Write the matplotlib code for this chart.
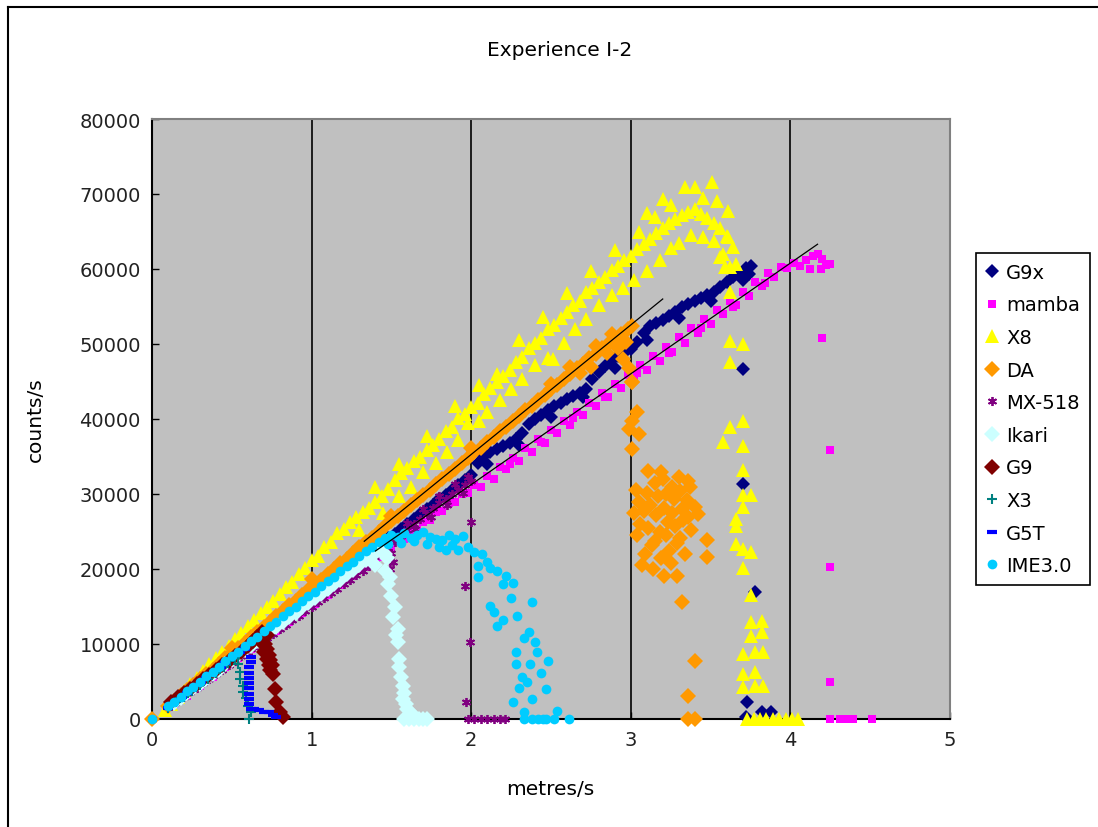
import matplotlib
matplotlib.use("Agg")
import matplotlib.pyplot as plt
from matplotlib.lines import Line2D

plt.rcParams["font.family"] = ["DejaVu Sans"]

# speed (metres/s) vs counts/s, one list of (x, y) per mouse
g9x = [(0, 0), (0.12, 2000), (0.16, 2600), (0.20, 3300), (0.24, 3900), (0.28, 4600), (0.32, 5200),
       (0.36, 5900), (0.40, 6500), (0.44, 7200), (0.48, 7800), (0.52, 8500), (0.56, 9100), (0.60, 9800),
       (0.64, 10400), (0.68, 11100), (0.72, 11700), (0.76, 12400), (0.80, 13000), (0.84, 13700),
       (0.88, 14300), (0.92, 15000), (0.96, 15600), (1.00, 16300), (1.04, 16900), (1.08, 17600),
       (1.12, 18200), (1.16, 18900), (1.20, 19500), (1.24, 20200), (1.28, 20800), (1.32, 21500),
       (1.36, 22100), (1.40, 22800), (1.44, 23400), (1.48, 24100), (1.52, 24700), (1.56, 25400),
       (1.60, 26000), (1.64, 26700), (1.68, 27300), (1.72, 28000), (1.76, 28600), (1.80, 29300),
       (1.84, 29900), (1.88, 30600), (1.92, 31200), (1.96, 31900), (2.00, 32600), (2.04, 34200),
       (2.08, 35100), (2.12, 35600), (2.16, 36000), (2.20, 36400), (2.24, 36800), (2.28, 37300),
       (2.32, 38200), (2.36, 39300), (2.40, 40000), (2.44, 40600), (2.48, 41200), (2.52, 41700),
       (2.56, 42200), (2.60, 42700), (2.64, 43100), (2.68, 43500), (2.72, 44000), (2.76, 45300),
       (2.80, 46300), (2.84, 47100), (2.88, 47900), (2.92, 48400), (2.96, 48800), (3.00, 49300),
       (3.04, 50300), (3.08, 51500), (3.12, 52400), (3.16, 52800), (3.20, 53200), (3.24, 53700),
       (3.28, 54300), (3.32, 54900), (3.36, 55300), (3.40, 55700), (3.44, 56100), (3.48, 56500),
       (3.52, 56900), (3.56, 57600), (3.60, 58300), (3.64, 59000), (3.68, 59600), (3.72, 60100),
       (3.75, 60400), (3.70, 58500), (3.74, 59300), (2.10, 34000), (2.30, 36500), (2.50, 40300),
       (2.70, 43000), (2.90, 46800), (3.10, 50500), (3.30, 53500), (3.50, 55800),
       (3.70, 46700), (3.70, 31300), (3.78, 16900), (3.73, 2300), (3.82, 900), (3.88, 900), (3.72, 300)]

mamba = [(0, 0), (0.10, 1900), (0.14, 2000), (0.18, 2900), (0.22, 3100), (0.26, 4300), (0.30, 4400),
         (0.34, 5300), (0.38, 5600), (0.42, 6700), (0.46, 6900), (0.50, 7800), (0.54, 8100), (0.58, 9100),
         (0.62, 9300), (0.66, 10300), (0.70, 10500), (0.74, 11500), (0.78, 11700), (0.82, 12800),
         (0.86, 13000), (0.90, 14000), (0.94, 14200), (0.98, 15300), (1.02, 15400), (1.06, 16500),
         (1.10, 16600), (1.14, 17700), (1.18, 17900), (1.22, 18900), (1.26, 19100), (1.30, 20200),
         (1.34, 20300), (1.38, 21400), (1.42, 21600), (1.46, 22600), (1.50, 22800), (1.54, 23900),
         (1.58, 24000), (1.62, 25100), (1.66, 25200), (1.70, 26300), (1.74, 26500), (1.78, 27600),
         (1.82, 27700), (1.86, 28800), (1.90, 28900), (1.94, 30000), (1.98, 30100), (2.02, 31200),
         (2.06, 31000), (2.10, 32400), (2.14, 32000), (2.18, 33600), (2.22, 33300), (2.26, 34800),
         (2.30, 34400), (2.34, 36100), (2.38, 35600), (2.42, 37300), (2.46, 36800), (2.50, 38500),
         (2.54, 38100), (2.58, 39800), (2.62, 39200), (2.66, 41000), (2.70, 40500), (2.74, 42200),
         (2.78, 41700), (2.82, 43500), (2.86, 42900), (2.90, 44700), (2.94, 44100), (2.98, 45900),
         (3.02, 45300), (3.06, 47200), (3.10, 46600), (3.14, 48400), (3.18, 47800), (3.22, 49600),
         (3.26, 49000), (3.30, 50900), (3.34, 50200), (3.38, 52100), (3.42, 51500), (3.46, 53300),
         (3.50, 52700), (3.54, 54600), (3.58, 54000), (3.62, 55800), (3.66, 55200), (3.70, 57000),
         (3.74, 56400), (3.78, 58300), (3.82, 57700), (3.86, 59500), (3.90, 59000), (3.94, 60300),
         (3.98, 60100), (4.02, 60800), (4.06, 60400), (4.10, 61200), (4.14, 61800), (4.17, 62000),
         (4.20, 61300), (4.25, 60700), (4.12, 60000), (4.19, 60000), (4.22, 60600),
         (2.24, 34000), (2.44, 37000), (2.64, 40200), (2.84, 43000), (3.04, 46200), (3.24, 48800),
         (3.44, 52200), (3.64, 55000), (3.84, 58200),
         (4.20, 50800), (4.25, 35900), (4.25, 20300), (4.25, 4900), (4.25, 0), (4.31, 0), (4.35, 0),
         (4.39, 0), (4.51, 0)]

x8 = [(0.08, 1200), (0.12, 2000), (0.16, 2900), (0.20, 3800), (0.24, 4700), (0.28, 5500), (0.32, 6400),
      (0.36, 7300), (0.40, 8100), (0.44, 9000), (0.48, 9800), (0.52, 10700), (0.56, 11500), (0.60, 12400),
      (0.64, 13200), (0.68, 14100), (0.72, 15000), (0.76, 15800), (0.80, 16700), (0.84, 17600),
      (0.88, 18300), (0.92, 19300), (0.96, 20100), (1.00, 21200), (1.04, 21800), (1.08, 22900),
      (1.12, 23600), (1.16, 24800), (1.20, 25400), (1.24, 26300), (1.28, 26900), (1.32, 27600),
      (1.36, 28100), (1.40, 29000), (1.44, 29800), (1.48, 30700), (1.52, 31900), (1.56, 32800),
      (1.60, 33500), (1.64, 34400), (1.68, 35000), (1.72, 35900), (1.76, 36600), (1.80, 37300),
      (1.84, 38400), (1.88, 39000), (1.92, 40100), (1.96, 40700), (2.00, 41600), (2.04, 42200),
      (2.08, 43300), (2.12, 44100), (2.16, 45000), (2.20, 45800), (2.24, 46500), (2.28, 47600),
      (2.32, 48300), (2.36, 49500), (2.40, 50100), (2.44, 50800), (2.48, 52000), (2.52, 52600),
      (2.56, 53500), (2.60, 54300), (2.64, 55200), (2.68, 55800), (2.72, 56900), (2.76, 57500),
      (2.80, 58300), (2.84, 59000), (2.88, 59900), (2.92, 60400), (2.96, 61200), (3.00, 61800),
      (3.04, 62700), (3.08, 63300), (3.12, 64000), (3.16, 64800), (3.20, 65500), (3.24, 66100),
      (3.28, 66700), (3.32, 67200), (3.36, 67600), (3.40, 68000), (3.44, 67400), (3.48, 66800),
      (3.52, 66200), (3.56, 65500), (3.60, 64400), (3.64, 63000),
      (1.30, 25200), (1.45, 27500), (1.55, 29800), (1.62, 31000), (1.70, 33000), (1.78, 34200),
      (1.85, 35600), (1.92, 37200), (1.98, 39500), (2.05, 39800), (2.10, 41000), (2.18, 42600),
      (2.25, 44000), (2.32, 45300), (2.40, 47200), (2.48, 48200), (2.51, 48000), (2.58, 50200),
      (2.65, 52000), (2.72, 53400), (2.80, 55200), (2.88, 56600), (2.95, 57500), (3.02, 58500),
      (3.10, 59800), (3.18, 61200), (3.25, 62800), (3.30, 63500), (3.38, 64500), (3.45, 64300),
      (3.52, 63800), (3.58, 62000), (3.62, 60300),
      (1.40, 31000), (1.55, 34000), (1.72, 37800), (1.90, 41800), (2.05, 44600), (2.16, 46000),
      (2.30, 50500), (2.45, 53600), (2.60, 56800), (2.75, 59800), (2.90, 62600), (3.05, 65000),
      (3.15, 66900), (3.20, 69300), (3.34, 71000), (3.40, 70900), (3.51, 71600), (3.54, 69100),
      (3.61, 67700), (3.61, 64300), (3.56, 61600), (3.59, 60300), (3.25, 68500), (3.45, 69500),
      (3.10, 67500),
      (3.62, 56900), (3.66, 60700), (3.62, 50400), (3.70, 50000), (3.62, 47600), (3.62, 39000),
      (3.70, 39700), (3.58, 36900), (3.70, 36400), (3.70, 33200), (3.70, 29900), (3.75, 29900),
      (3.70, 28300), (3.66, 26700), (3.66, 25700), (3.66, 23300), (3.70, 22700), (3.75, 22300),
      (3.70, 20100), (3.75, 16500), (3.75, 12900), (3.82, 13100), (3.82, 11600), (3.75, 11100),
      (3.70, 8700), (3.78, 8900), (3.83, 8900), (3.70, 6000), (3.78, 6300), (3.70, 4300),
      (3.78, 4400), (3.83, 4400), (3.73, 0), (3.77, 0), (3.81, 0), (3.85, 0), (3.89, 0), (3.93, 0),
      (3.97, 0), (4.01, 0), (4.05, 0)]

da = [(0, 0), (0.10, 1800), (0.14, 2400), (0.18, 3200), (0.22, 3900), (0.26, 4500), (0.30, 5300),
      (0.34, 6000), (0.38, 6600), (0.42, 7400), (0.46, 8100), (0.50, 8800), (0.54, 9500), (0.58, 10200),
      (0.62, 10900), (0.66, 11600), (0.70, 12300), (0.74, 13000), (0.78, 13800), (0.82, 14400),
      (0.86, 15200), (0.90, 15800), (0.94, 16600), (0.98, 17200), (1.02, 18000), (1.06, 18600),
      (1.10, 19400), (1.14, 20000), (1.18, 20800), (1.22, 21400), (1.26, 22200), (1.30, 22900),
      (1.34, 23600), (1.38, 24200), (1.42, 25000), (1.46, 25700), (1.50, 26400), (1.54, 27100),
      (1.58, 27800), (1.62, 28500), (1.66, 29200), (1.70, 29900), (1.74, 30600), (1.78, 31300),
      (1.82, 32000), (1.86, 32700), (1.90, 33400), (1.94, 34100), (1.98, 34800), (2.02, 35600),
      (2.06, 36200), (2.10, 37000), (2.14, 37600), (2.18, 38400), (2.22, 39000), (2.26, 39800),
      (2.30, 40400), (2.34, 41200), (2.38, 41800), (2.42, 42600), (2.46, 43200), (2.50, 44000),
      (2.54, 44600), (2.58, 45400), (2.62, 46000), (2.66, 46800), (2.70, 47300), (2.74, 48200),
      (2.78, 48700), (2.82, 49500), (2.86, 50000), (2.90, 50800), (2.94, 51300), (2.98, 52000),
      (3.01, 52400),
      (0.50, 9500), (1.00, 18700), (1.50, 27100), (2.00, 36100), (2.50, 44700), (2.62, 47000),
      (2.68, 46200), (2.75, 47000), (2.85, 48800), (2.92, 49500), (2.97, 50300), (2.95, 48000),
      (3.01, 45000), (2.99, 46800), (2.88, 51300), (2.78, 49800),
      (3.01, 44900), (3.04, 40900), (3.01, 39700), (2.99, 38700), (3.05, 38000), (3.01, 36000),
      (3.11, 33100), (3.36, 31700),
      (3.03, 30500), (3.05, 29000), (3.02, 27500), (3.06, 26000), (3.04, 24500), (3.08, 27800),
      (3.10, 30200), (3.12, 28600), (3.11, 25500), (3.13, 23200), (3.09, 22000), (3.15, 31500),
      (3.17, 29800), (3.16, 27200), (3.18, 25000), (3.15, 23800), (3.19, 21500), (3.20, 32000),
      (3.22, 30000), (3.21, 28200), (3.23, 26300), (3.22, 24600), (3.24, 22400), (3.26, 31000),
      (3.27, 29300), (3.26, 27500), (3.28, 25800), (3.29, 23500), (3.30, 32300), (3.31, 30400),
      (3.32, 28000), (3.33, 26600), (3.31, 24200), (3.35, 29200), (3.36, 27000), (3.37, 31000),
      (3.38, 25200), (3.40, 28300), (3.07, 20500), (3.14, 20000), (3.25, 20800), (3.34, 22000),
      (3.42, 27400), (3.19, 33000),
      (3.48, 23900), (3.48, 21600), (3.29, 19100), (3.21, 19100), (3.32, 15600), (3.40, 7700),
      (3.36, 3100), (3.36, 0), (3.40, 0)]

mx518 = [(0, 0), (0.12, 1800), (0.16, 2400), (0.20, 3000), (0.24, 3600), (0.28, 4200), (0.32, 4800),
         (0.36, 5400), (0.40, 6000), (0.44, 6600), (0.48, 7200), (0.52, 7800), (0.56, 8400), (0.60, 9000),
         (0.64, 9600), (0.68, 10200), (0.72, 10800), (0.76, 11400), (0.80, 12000), (0.84, 12600),
         (0.88, 13200), (0.92, 13800), (0.96, 14400), (1.00, 15000), (1.04, 15600), (1.08, 16200),
         (1.12, 16800), (1.16, 17400), (1.20, 18000), (1.24, 18600), (1.28, 19200), (1.32, 19800),
         (1.36, 20400), (1.40, 21200), (1.44, 22000), (1.48, 22800), (1.52, 23600), (1.56, 24400),
         (1.60, 25200), (1.64, 26000), (1.68, 26700), (1.72, 27400), (1.76, 28100), (1.80, 28800),
         (1.84, 29400), (1.88, 30000), (1.92, 30600), (1.96, 31200), (2.00, 31800),
         (1.55, 23800), (1.65, 25400), (1.75, 27000), (1.85, 28600), (1.95, 30200), (1.60, 26200),
         (1.70, 28000), (1.80, 29800), (1.90, 31400), (1.98, 32300), (1.50, 22200), (1.51, 21000),
         (1.49, 20000),
         (2.00, 26300), (1.96, 17800), (1.99, 10300), (1.97, 2300), (1.98, 0), (2.02, 0), (2.06, 0),
         (2.10, 0), (2.14, 0), (2.18, 0), (2.21, 0)]

ikari = [(0.14, 2200), (0.18, 2800), (0.22, 3500), (0.26, 4100), (0.30, 4700), (0.34, 5400), (0.38, 6000),
         (0.42, 6600), (0.46, 7300), (0.50, 7900), (0.54, 8500), (0.58, 9200), (0.62, 9800), (0.66, 10400),
         (0.70, 11100), (0.74, 11700), (0.78, 12300), (0.82, 13000), (0.86, 13600), (0.90, 14200),
         (0.94, 14900), (0.98, 15500), (1.02, 16100), (1.06, 16700), (1.10, 17400), (1.14, 18000),
         (1.18, 18600), (1.22, 19300), (1.26, 19900), (1.30, 20500), (1.34, 21200), (1.38, 21800),
         (1.42, 22500), (1.44, 23100), (1.46, 22000), (1.40, 20600),
         (1.47, 21500), (1.49, 19000), (1.50, 16400), (1.51, 13600), (1.54, 12000), (1.54, 10300),
         (1.55, 8000), (1.55, 6900), (1.57, 4400), (1.57, 2700), (1.60, 1300), (1.46, 19800),
         (1.48, 18000), (1.52, 15000), (1.53, 11200), (1.56, 5600), (1.58, 3500), (1.59, 2000),
         (1.62, 800), (1.65, 300), (1.58, 0), (1.61, 0), (1.64, 0), (1.67, 0), (1.70, 0), (1.72, 0)]

g9 = [(0.12, 2300), (0.16, 2900), (0.20, 3500), (0.24, 4000), (0.28, 4700), (0.32, 5300), (0.36, 5900),
      (0.40, 6500), (0.44, 7200), (0.48, 7800), (0.52, 8400), (0.56, 9000), (0.60, 9700), (0.63, 10400),
      (0.66, 11000), (0.69, 11600), (0.70, 10800), (0.71, 10000), (0.72, 9300), (0.73, 8600),
      (0.74, 7900), (0.75, 7200), (0.74, 6500), (0.76, 6000), (0.72, 11200), (0.68, 10300),
      (0.70, 9000), (0.72, 8000), (0.73, 7200), (0.77, 4000), (0.78, 2300), (0.80, 900), (0.82, 300)]

x3 = [(0.10, 1500), (0.15, 2300), (0.20, 3000), (0.25, 3800), (0.30, 4600), (0.35, 5300), (0.40, 6100),
      (0.45, 6900), (0.49, 7800), (0.52, 8200), (0.54, 7400), (0.55, 6300), (0.55, 5300), (0.57, 4400),
      (0.57, 3600), (0.59, 2800), (0.60, 1800), (0.62, 900), (0.61, 0)]

g5t = [(0.10, 1500), (0.13, 2000), (0.16, 2500), (0.19, 3000), (0.22, 3500), (0.25, 4000), (0.28, 4500),
       (0.31, 5000), (0.34, 5500), (0.37, 6000), (0.40, 6500), (0.43, 7000), (0.46, 7500), (0.49, 8000),
       (0.52, 8500), (0.55, 9000), (0.58, 9400), (0.62, 8300), (0.62, 7600), (0.61, 6900), (0.61, 6200),
       (0.61, 5500), (0.61, 4800), (0.61, 4100), (0.61, 3400), (0.61, 2700), (0.61, 2000), (0.62, 1400),
       (0.64, 1300), (0.67, 1200), (0.70, 1000), (0.73, 900), (0.76, 600), (0.78, 300)]

ime30 = [(0, 0), (0.10, 1700), (0.14, 2300), (0.18, 3000), (0.22, 3700), (0.26, 4300), (0.30, 5000),
         (0.34, 5700), (0.38, 6300), (0.42, 7000), (0.46, 7700), (0.50, 8400), (0.54, 9000), (0.58, 9700),
         (0.62, 10400), (0.66, 11000), (0.70, 11700), (0.74, 12400), (0.78, 13000), (0.82, 13700),
         (0.86, 14400), (0.90, 15000), (0.94, 15700), (0.98, 16400), (1.02, 17000), (1.06, 17700),
         (1.10, 18400), (1.14, 19000), (1.18, 19700), (1.22, 20400), (1.26, 21000), (1.30, 21700),
         (1.34, 22400), (1.38, 23000), (1.42, 23600),
         (1.46, 24200), (1.50, 24600), (1.54, 24300), (1.58, 24800), (1.62, 24200), (1.66, 24600),
         (1.70, 24900), (1.74, 24300), (1.78, 24000), (1.82, 23900), (1.86, 24500), (1.90, 24000),
         (1.95, 24400), (1.48, 23300), (1.56, 23500), (1.64, 23800), (1.72, 23400), (1.80, 22900),
         (1.84, 22500), (1.88, 23200), (1.92, 22600), (1.98, 23000), (2.02, 22300),
         (2.07, 22000), (2.04, 20400), (2.04, 18900), (2.10, 21000), (2.16, 19700), (2.22, 19100),
         (2.20, 18000), (2.26, 18200), (2.12, 20200), (2.38, 15600), (2.12, 15100), (2.16, 12400),
         (2.29, 13700), (2.36, 11600), (2.28, 8900), (2.41, 8900), (2.28, 7300), (2.37, 7300),
         (2.48, 7700), (2.32, 5600), (2.47, 4000), (2.26, 2300), (2.38, 2700), (2.54, 1100),
         (2.33, 900), (2.14, 14300), (2.20, 13200), (2.25, 16200), (2.33, 10800), (2.40, 10300),
         (2.44, 6200), (2.30, 4200), (2.35, 5000),
         (2.33, 0), (2.38, 0), (2.42, 0), (2.45, 0), (2.47, 0), (2.52, 0), (2.61, 0)]

# linear fits drawn over DA and mamba (start/end points)
da_fit = [(1.33, 23700), (3.20, 56000)]
mamba_fit = [(1.40, 22400), (4.17, 63300)]

series = [
    ("G9x", g9x, dict(marker="D", color="#000080", ms=7.5)),
    ("mamba", mamba, dict(marker="s", color="#FF00FF", ms=6)),
    ("X8", x8, dict(marker="^", color="#FFFF00", ms=10.5)),
    ("DA", da, dict(marker="D", color="#FF9900", ms=8)),
    ("MX-518", mx518, dict(marker=(6, 2, 0), color="#800080", ms=6.5, mew=1.3)),
    ("Ikari", ikari, dict(marker="D", color="#CCFFFF", ms=8)),
    ("G9", g9, dict(marker="D", color="#800000", ms=8)),
    ("X3", x3, dict(marker="+", color="#008080", ms=7.5, mew=1.5)),
    ("G5T", g5t, dict(marker="_", color="#0000FF", ms=7, mew=3)),
    ("IME3.0", ime30, dict(marker="o", color="#00CCFF", ms=7)),
]

fig = plt.figure(figsize=(10.98, 8.28), dpi=100)
ax = fig.add_axes([152 / 1098, 1 - 720 / 828, 798 / 1098, 600 / 828])
ax.set_facecolor("#C0C0C0")

for name, pts, style in series:
    xs = [p[0] for p in pts]
    ys = [p[1] for p in pts]
    st = dict(style)
    if "mew" not in st:
        st["mew"] = 0
    ax.plot(xs, ys, linestyle="none", label=name, mec=st["color"], mfc=st["color"],
            clip_on=False, zorder=3, **st)

for fit in (da_fit, mamba_fit):
    ax.plot([fit[0][0], fit[1][0]], [fit[0][1], fit[1][1]], color="black", lw=0.9, zorder=4)

ax.set_xlim(0, 5)
ax.set_ylim(0, 80000)
ax.set_xticks([0, 1, 2, 3, 4, 5])
ax.set_yticks(range(0, 80001, 10000))
ax.grid(axis="x", color="black", lw=1.2)
ax.set_axisbelow(True)
ax.tick_params(direction="in", length=5, width=1, labelsize=14, pad=8, labelcolor="#222222")

for side in ("left", "bottom"):
    ax.spines[side].set_color("black")
    ax.spines[side].set_linewidth(1.5)
for side in ("top", "right"):
    ax.spines[side].set_color("#808080")
    ax.spines[side].set_linewidth(1.5)

fig.text(560 / 1098, 1 - 50 / 828, "Experience I-2", ha="center", va="center", fontsize=14.5)
fig.text(35 / 1098, 1 - 420 / 828, "counts/s", rotation=90, ha="center", va="center", fontsize=14.5)
fig.text(550 / 1098, 1 - 790 / 828, "metres/s", ha="center", va="center", fontsize=14.5)

leg = ax.legend(loc="upper left", bbox_to_anchor=(976 / 1098, 1 - 254 / 828),
                bbox_transform=fig.transFigure, fontsize=14, numpoints=1, fancybox=False,
                framealpha=1, edgecolor="black", handlelength=0.6, handletextpad=0.45,
                labelspacing=0.7, borderpad=0.5, borderaxespad=0)
leg.get_frame().set_linewidth(1.2)

# outer chart border
fig.add_artist(Line2D([8 / 1098, 8 / 1098], [0, 1 - 8 / 828], color="black", lw=1.5))
fig.add_artist(Line2D([8 / 1098, 1], [1 - 8 / 828, 1 - 8 / 828], color="black", lw=1.5))

fig.savefig("out.png", dpi=100)
